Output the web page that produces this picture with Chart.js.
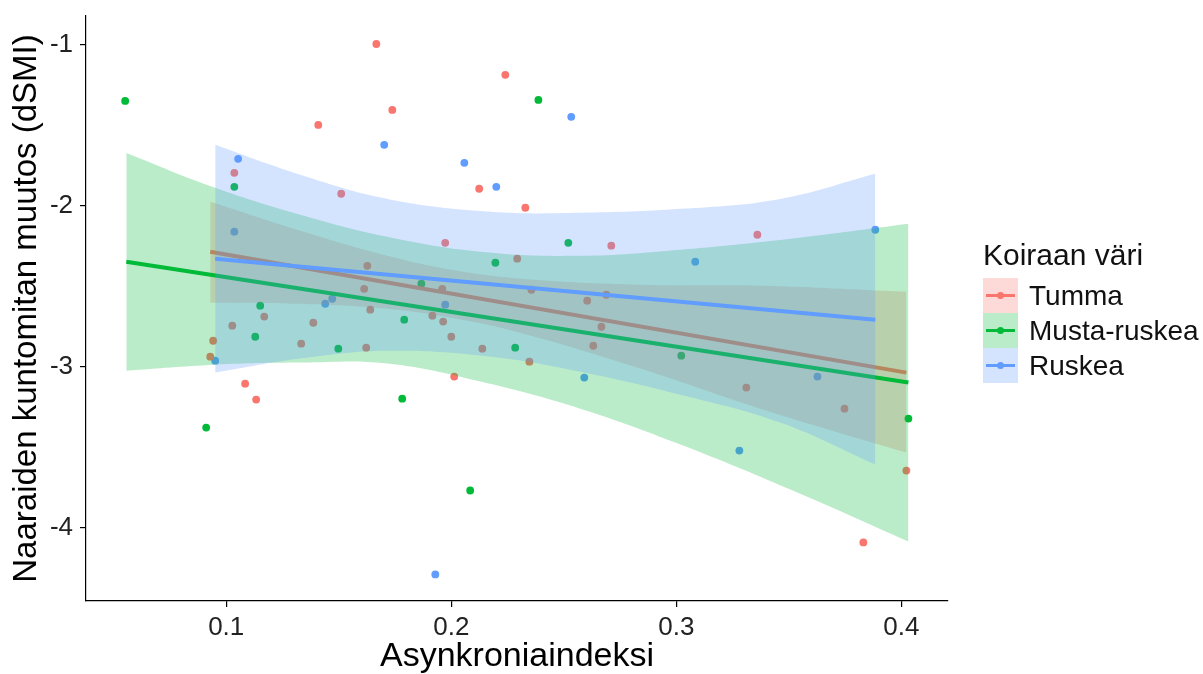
<!DOCTYPE html>
<html>
<head>
<meta charset="utf-8">
<script src="https://cdn.jsdelivr.net/npm/chart.js@4.4.1/dist/chart.umd.min.js"></script>
<style>
body { margin: 0; background: #fff; font-family: "Liberation Sans", Arial, sans-serif; }
#wrap { position: relative; width: 1203px; height: 674px; }
#legend-title { position: absolute; left: 983px; top: 237px; font-size: 30px; line-height: 36px; color: #111; }
.key { position: absolute; left: 983px; width: 35px; height: 35px; }
.key .ln { position: absolute; left: 3px; right: 3px; top: 16px; height: 3px; }
.key .dot { position: absolute; left: 14px; top: 14px; width: 7px; height: 7px; border-radius: 50%; }
.lab { position: absolute; left: 1029px; font-size: 28px; line-height: 35px; color: #111; }
</style>
</head>
<body>
<div id="wrap">
  <canvas id="chart" width="1203" height="674"></canvas>
  <div id="legend-title">Koiraan väri</div>
  <div id="legend"></div>
</div>
<script>
// Groups
const groups = ["Tumma", "Musta-ruskea", "Ruskea"];
const colors = ["#F8766D", "#00BA38", "#619CFF"];
const bandColors = ["rgba(248,118,109,0.27)", "rgba(0,186,56,0.27)", "rgba(97,156,255,0.27)"];

// Points
const tummaX = [0.1667, 0.1409, 0.1036, 0.1511, 0.1627, 0.1613, 0.1640, 0.1169, 0.1027, 0.1387, 0.0942, 0.1333, 0.1622, 0.0929, 0.1084, 0.1133, 0.2240, 0.1738, 0.2124, 0.2329, 0.1973, 0.2711, 0.2293, 0.1960, 0.2356, 0.2604, 0.2689, 0.1916, 0.1964, 0.2000, 0.2138, 0.2347, 0.2667, 0.2631, 0.2013, 0.3360, 0.3311, 0.3747, 0.4022, 0.3831];
const tummaY = [-0.994, -1.497, -1.795, -1.925, -2.373, -2.516, -2.646, -2.689, -2.745, -2.727, -2.839, -2.857, -2.882, -2.938, -3.106, -3.205, -1.186, -1.404, -1.894, -2.012, -2.230, -2.248, -2.329, -2.516, -2.522, -2.590, -2.553, -2.683, -2.720, -2.814, -2.888, -2.969, -2.752, -2.870, -3.062, -2.180, -3.130, -3.261, -3.646, -4.093];
const mustaX = [0.0551, 0.1036, 0.1151, 0.1129, 0.1498, 0.0911, 0.2387, 0.2520, 0.2196, 0.1867, 0.1791, 0.2284, 0.1782, 0.2084, 0.3022, 0.4031];
const mustaY = [-1.348, -1.882, -2.621, -2.814, -2.888, -3.379, -1.342, -2.230, -2.354, -2.484, -2.708, -2.882, -3.199, -3.770, -2.932, -3.323];
const ruskeaX = [0.1702, 0.1053, 0.1036, 0.1440, 0.1471, 0.0951, 0.2533, 0.2058, 0.2200, 0.1973, 0.2591, 0.1929, 0.3884, 0.3084, 0.3627, 0.3280];
const ruskeaY = [-1.621, -1.708, -2.161, -2.609, -2.578, -2.963, -1.447, -1.733, -1.882, -2.615, -3.068, -4.292, -2.149, -2.348, -3.062, -3.522];

// Fitted lines (end points)
const tummaFitX = [0.0929, 0.4022];
const tummaFitY = [-2.286, -3.037];
const mustaFitX = [0.0556, 0.4031];
const mustaFitY = [-2.348, -3.099];
const ruskeaFitX = [0.0951, 0.3884];
const ruskeaFitY = [-2.329, -2.708];

// Confidence bands
const tummaBandX = [0.0929, 0.1329, 0.1716, 0.2000, 0.2307, 0.2840, 0.3373, 0.4022];
const tummaBandHi = [-1.975, -2.155, -2.311, -2.398, -2.453, -2.491, -2.497, -2.534];
const tummaBandLo = [-2.602, -2.609, -2.640, -2.696, -2.789, -3.012, -3.261, -3.534];
const mustaBandX = [0.0556, 0.0951, 0.1329, 0.1716, 0.2129, 0.2573, 0.3018, 0.3507, 0.4031];
const mustaBandHi = [-1.671, -1.888, -2.056, -2.193, -2.286, -2.311, -2.273, -2.205, -2.112];
const mustaBandLo = [-3.025, -2.988, -2.975, -2.981, -3.093, -3.261, -3.484, -3.764, -4.087];
const ruskeaBandX = [0.0951, 0.1329, 0.1716, 0.2178, 0.2573, 0.3018, 0.3462, 0.3884];
const ruskeaBandHi = [-1.621, -1.807, -1.957, -2.037, -2.043, -2.019, -1.957, -1.801];
const ruskeaBandLo = [-3.037, -2.950, -2.901, -2.938, -3.031, -3.174, -3.348, -3.609];

// Axes
const xTicks = [0.1, 0.2, 0.3, 0.4];
const yTicks = [-4, -3, -2, -1];
const xRange = [0.0377, 0.4207];
const yRange = [-4.457, -0.82];

function pts(xs, ys) {
	return xs.map((x, i) => ({ x: x, y: ys[i] }));
}

const pointSets = [[tummaX, tummaY], [mustaX, mustaY], [ruskeaX, ruskeaY]];
const fitSets = [[tummaFitX, tummaFitY], [mustaFitX, mustaFitY], [ruskeaFitX, ruskeaFitY]];
const bandSets = [
	[tummaBandX, tummaBandHi, tummaBandLo],
	[mustaBandX, mustaBandHi, mustaBandLo],
	[ruskeaBandX, ruskeaBandHi, ruskeaBandLo],
];

const datasets = [];

// points go under everything
pointSets.forEach((p, g) => {
	datasets.push({
		type: "scatter",
		data: pts(p[0], p[1]),
		backgroundColor: colors[g],
		borderWidth: 0,
		pointRadius: 3.9,
		order: 20,
	});
});

// ribbon then line for each group, later groups on top
groups.forEach((name, g) => {
	const b = bandSets[g];
	const loIndex = datasets.length + 1;
	datasets.push({
		type: "line",
		data: pts(b[0], b[1]),
		borderWidth: 0,
		pointRadius: 0,
		tension: 0.4,
		fill: { target: loIndex },
		backgroundColor: bandColors[g],
		order: 10 - g * 3,
	});
	datasets.push({
		type: "line",
		data: pts(b[0], b[2]),
		borderWidth: 0,
		pointRadius: 0,
		tension: 0.4,
		fill: false,
		order: 10 - g * 3,
	});
	const f = fitSets[g];
	datasets.push({
		type: "line",
		data: pts(f[0], f[1]),
		borderColor: colors[g],
		borderWidth: 4,
		pointRadius: 0,
		fill: false,
		order: 9 - g * 3,
	});
});

Chart.defaults.font.family = '"Liberation Sans", Arial, sans-serif';
Chart.defaults.color = "#222";

const ctx = document.getElementById("chart").getContext("2d");
new Chart(ctx, {
	type: "scatter",
	data: { datasets: datasets },
	options: {
		responsive: false,
		animation: false,
		layout: { padding: { top: 16, right: 255, bottom: 0, left: 0 } },
		plugins: {
			legend: { display: false },
			tooltip: { enabled: false },
		},
		scales: {
			x: {
				type: "linear",
				min: xRange[0],
				max: xRange[1],
				afterBuildTicks: (s) => { s.ticks = xTicks.map((v) => ({ value: v })); },
				afterFit: (s) => { s.height = 73; s.paddingLeft = 0; s.paddingRight = 0; },
				ticks: { font: { size: 26 }, color: "#222", padding: 5, callback: (v) => String(v) },
				grid: { drawOnChartArea: false, drawTicks: true, tickLength: 6, color: "#000", lineWidth: 1.2 },
				border: { display: true, color: "#000", width: 1.2 },
				title: { display: true, text: "Asynkroniaindeksi", font: { size: 34, lineHeight: 1 }, color: "#000", padding: { top: 0, bottom: 0 } },
			},
			y: {
				type: "linear",
				min: yRange[0],
				max: yRange[1],
				afterBuildTicks: (s) => { s.ticks = yTicks.map((v) => ({ value: v })); },
				afterFit: (s) => { s.width = 86; s.paddingTop = 0; s.paddingBottom = 0; },
				ticks: { font: { size: 26 }, color: "#222", padding: 7, callback: (v) => String(v) },
				grid: { drawOnChartArea: false, drawTicks: true, tickLength: 6, color: "#000", lineWidth: 1.2 },
				border: { display: true, color: "#000", width: 1.2 },
				title: { display: true, text: "Naaraiden kuntomitan muutos (dSMI)", font: { size: 33, lineHeight: 1 }, color: "#000", padding: { top: 10, bottom: 0 } },
			},
		},
	},
});

// Legend
const legend = document.getElementById("legend");
const rowTops = [278, 313, 348];
groups.forEach((name, g) => {
	const key = document.createElement("div");
	key.className = "key";
	key.style.top = rowTops[g] + "px";
	key.style.background = bandColors[g];
	key.innerHTML = '<div class="ln" style="background:' + colors[g] + '"></div><div class="dot" style="background:' + colors[g] + '"></div>';
	legend.appendChild(key);
	const lab = document.createElement("div");
	lab.className = "lab";
	lab.style.top = rowTops[g] + "px";
	lab.textContent = name;
	legend.appendChild(lab);
});
</script>
</body>
</html>
